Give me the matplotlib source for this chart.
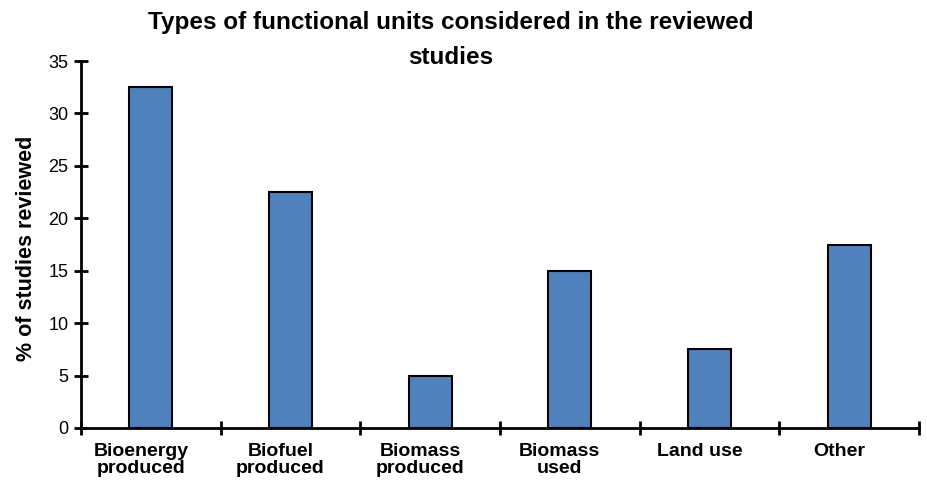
import matplotlib
matplotlib.use("Agg")
import matplotlib.pyplot as plt
import matplotlib.transforms as mtransforms
import numpy as np

categories = ["Bioenergy\nproduced", "Biofuel\nproduced", "Biomass\nproduced",
              "Biomass\nused", "Land use", "Other"]
values = [32.5, 22.5, 5, 15, 7.5, 17.5]
yticks = [0, 5, 10, 15, 20, 25, 30, 35]

plt.rcParams['font.family'] = ['Liberation Sans', 'DejaVu Sans']

fig = plt.figure(figsize=(9.27, 4.82), dpi=100)
ax = fig.add_axes([81/927, 54/482, (919-81)/927, (428-61)/482])

x = np.arange(len(categories))
ax.bar(x, values, width=0.31, color='#4F81BD', edgecolor='black', linewidth=1.5, zorder=2)

ax.set_xlim(-0.5, len(categories) - 0.5)
ax.set_ylim(0, 35)
ax.set_yticks(yticks)
ax.set_yticklabels([str(t) for t in yticks], fontsize=13)
ax.set_xticks(x)
ax.set_xticklabels(categories, fontsize=14, fontweight='bold', linespacing=1.0)
ax.set_xticks(np.arange(-0.5, len(categories)), minor=True)
ax.tick_params(axis='x', which='major', length=0, pad=11)
ax.tick_params(axis='x', which='minor', direction='inout', length=10, width=2)
ax.tick_params(axis='y', direction='inout', length=10, width=2, pad=4)

offset = mtransforms.ScaledTranslation(-10/100, 0, fig.dpi_scale_trans)
for lbl in ax.get_xticklabels():
    lbl.set_transform(lbl.get_transform() + offset)

for s in ['top', 'right']:
    ax.spines[s].set_visible(False)
for s in ['left', 'bottom']:
    ax.spines[s].set_linewidth(2)

ax.set_ylabel("% of studies reviewed", fontsize=15.5, fontweight='bold')
ax.yaxis.set_label_coords(-0.052, 0.49)
fig.text(451/927, 1 - 40/482, "Types of functional units considered in the reviewed\nstudies",
         ha='center', va='center', fontsize=17.5, fontweight='bold', linespacing=1.7)

fig.savefig("out.png", dpi=100)
